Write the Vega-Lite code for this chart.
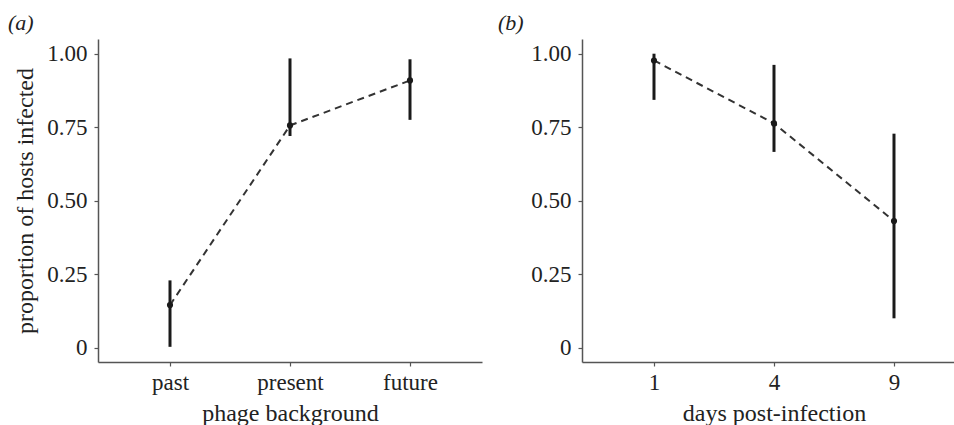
{
  "$schema": "https://vega.github.io/schema/vega-lite/v6.json",
  "autosize": "pad",
  "padding": {"left": 8, "top": 12, "right": 0, "bottom": 0},
  "background": "white",
  "bounds": "flush",
  "spacing": 100,
  "datasets": {
    "a": [
      {"background": "past", "p": 0.145, "lo": 0.003, "hi": 0.229},
      {"background": "present", "p": 0.756, "lo": 0.72, "hi": 0.984},
      {"background": "future", "p": 0.909, "lo": 0.775, "hi": 0.981}
    ],
    "b": [
      {"day": "1", "p": 0.977, "lo": 0.843, "hi": 1.0},
      {"day": "4", "p": 0.763, "lo": 0.666, "hi": 0.962},
      {"day": "9", "p": 0.431, "lo": 0.10, "hi": 0.728}
    ]
  },
  "config": {
    "view": {"stroke": null},
    "font": "Liberation Serif",
    "axis": {
      "grid": false,
      "domainColor": "#555555",
      "domainWidth": 1.5,
      "tickColor": "#555555",
      "tickWidth": 1.2,
      "tickSize": 4,
      "labelFont": "Liberation Serif",
      "labelFontSize": 23,
      "labelColor": "#222222",
      "labelPadding": 7,
      "titleFont": "Liberation Serif",
      "titleFontSize": 24,
      "titleFontWeight": "normal",
      "titleColor": "#222222"
    },
    "title": {
      "font": "Liberation Serif",
      "fontSize": 22,
      "fontStyle": "italic",
      "fontWeight": "normal",
      "color": "#222222",
      "anchor": "start",
      "frame": "group",
      "baseline": "alphabetic",
      "offset": 4
    }
  },
  "hconcat": [
    {
      "width": 384,
      "height": 323,
      "title": {"text": "(a)", "dx": -90},
      "data": {"name": "a"},
      "encoding": {
        "x": {
          "field": "background",
          "type": "ordinal",
          "sort": ["past", "present", "future"],
          "scale": {"type": "point", "padding": 0.6},
          "axis": {"title": "phage background", "labelAngle": 0, "labelPadding": 5, "titlePadding": 7}
        }
      },
      "layer": [
        {
          "mark": {"type": "rule", "strokeWidth": 3, "color": "#1a1a1a"},
          "encoding": {
            "y": {"field": "lo", "type": "quantitative", "scale": {"domain": [-0.0486, 1.05], "nice": false, "zero": false},
              "axis": {"title": "proportion of hosts infected", "values": [0, 0.25, 0.5, 0.75, 1], "labelExpr": "datum.value == 0 ? '0' : format(datum.value, '.2f')", "titlePadding": 9}},
            "y2": {"field": "hi"}
          }
        },
        {
          "mark": {"type": "line", "strokeWidth": 2, "color": "#333333", "strokeDash": [7, 5]},
          "encoding": {"y": {"field": "p", "type": "quantitative"}}
        },
        {
          "mark": {"type": "point", "filled": true, "size": 38, "opacity": 1, "color": "#1a1a1a"},
          "encoding": {"y": {"field": "p", "type": "quantitative"}}
        }
      ]
    },
    {
      "width": 372,
      "height": 323,
      "title": {"text": "(b)", "dx": -84},
      "data": {"name": "b"},
      "encoding": {
        "x": {
          "field": "day",
          "type": "ordinal",
          "sort": ["1", "4", "9"],
          "scale": {"type": "point", "padding": 0.55, "align": 0.5454},
          "axis": {"title": "days post-infection", "labelAngle": 0, "labelPadding": 5, "titlePadding": 7, "titleX": 192}
        }
      },
      "layer": [
        {
          "mark": {"type": "rule", "strokeWidth": 3, "color": "#1a1a1a"},
          "encoding": {
            "y": {"field": "lo", "type": "quantitative", "scale": {"domain": [-0.0486, 1.05], "nice": false, "zero": false},
              "axis": {"title": null, "values": [0, 0.25, 0.5, 0.75, 1], "labelExpr": "datum.value == 0 ? '0' : format(datum.value, '.2f')"}},
            "y2": {"field": "hi"}
          }
        },
        {
          "mark": {"type": "line", "strokeWidth": 2, "color": "#333333", "strokeDash": [7, 5]},
          "encoding": {"y": {"field": "p", "type": "quantitative"}}
        },
        {
          "mark": {"type": "point", "filled": true, "size": 38, "opacity": 1, "color": "#1a1a1a"},
          "encoding": {"y": {"field": "p", "type": "quantitative"}}
        }
      ]
    }
  ]
}
